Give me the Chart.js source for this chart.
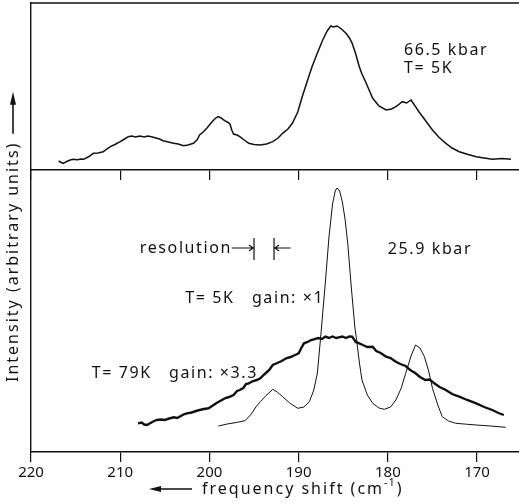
<!DOCTYPE html>
<html><head><meta charset="utf-8">
<script src="https://cdn.jsdelivr.net/npm/chart.js@4"></script>
<style>
html,body{margin:0;padding:0;background:#fff;}
#wrap{position:relative;width:519px;height:504px;overflow:hidden;}
canvas{position:absolute;left:0;top:0;}
</style></head><body>
<div id="wrap"><canvas id="cBot" width="519" height="504"></canvas><canvas id="cTop" width="519" height="504"></canvas></div>
<script>
// ---- data ----
const xTicks = [220, 210, 200, 190, 180, 170];

// 66.5 kbar, T = 5K (upper panel)
const freqTop = [216.9,216.6,216.4,216.0,215.6,215.3,214.8,214.4,214.1,213.6,213.0,212.5,211.9,211.5,211.1,210.6,210.0,209.6,209.1,208.7,208.3,207.8,207.3,206.9,206.5,206.0,205.6,205.2,204.6,204.0,203.5,202.9,202.4,201.8,201.4,201.1,200.7,200.3,199.7,199.3,199.0,198.7,198.3,197.9,197.7,197.5,197.3,196.9,196.6,196.1,195.6,195.0,194.3,193.6,192.9,192.3,191.8,191.2,190.7,190.1,189.6,189.1,188.5,187.9,187.3,186.8,186.4,186.1,185.7,185.2,184.7,184.3,184.0,183.6,183.2,182.9,182.5,182.1,181.7,181.0,180.2,179.6,179.1,178.7,178.4,177.9,177.4,177.1,176.9,176.5,176.1,175.5,175.0,174.3,173.5,172.8,172.0,171.0,170.1,169.2,168.3,167.2,166.2];
const intTop = [9,7.5,6.7,8.5,10,10.7,10.3,11,10.7,13,16.7,17,18.3,21,23.3,25.5,28.3,30.5,33.3,34,33,34,33,34,33.3,32,31,29.3,28,26.7,26,24.3,25,26.7,30,35,38,41.7,48.3,52,53.3,52,49.3,47.5,46,40,36,35,33.3,30,26.7,25.5,25,26,28.3,32,36.7,41,46.7,58,73.3,87,103.3,117,130,139,144,143,144,141,136.7,132,126.7,116,103.3,96,88.3,80,71.7,64,60,61,63.3,66,68.3,67,70,66,63.3,58,53.3,46,40,33,26.7,22,18.3,15.5,13.3,12,10.7,11.5,10.7];

// 25.9 kbar, T = 5K, gain x1 (lower panel, thin line)
const freq5K = [199.0,198.0,197.0,196.0,195.3,194.8,194.3,193.7,192.9,192.4,191.8,191.0,190.1,189.4,188.8,188.3,187.9,187.5,187.0,186.6,186.2,185.9,185.7,185.4,185.1,184.8,184.5,184.1,183.7,183.5,183.2,182.9,182.3,181.7,181.0,180.4,179.7,179.1,178.5,178.0,177.4,176.9,176.4,175.9,175.4,175.0,174.4,173.9,173.2,172.4,171.2,170.1,168.5,166.8];
const int5K = [26,28,29.5,31.3,38,45,50.3,56,62.7,60,55.3,49,43.7,45,50.3,62,79,118,170,215,248,261,264,261,250,233,209,165,125,112,90,72,57,48.7,44,42.7,45,52,64,78.7,96,107,104,95.3,80,63.7,47,35.3,31,28.7,27.8,27,26,24.7];

// 25.9 kbar, T = 79K, gain x3.3 (lower panel, thick line)
const freq79K = [208.0,207.6,207.3,207.0,206.6,206.2,205.9,205.4,205.0,204.5,204.0,203.6,203.2,202.8,202.5,202.0,201.5,201.1,200.6,200.1,199.7,199.2,198.6,198.2,197.8,197.3,196.9,196.6,196.2,195.9,195.6,195.1,194.7,194.3,193.8,193.3,192.9,192.4,191.9,191.4,190.9,190.4,190.0,189.7,189.4,189.0,188.6,188.3,187.8,187.4,187.0,186.6,186.2,185.8,185.5,185.1,184.7,184.3,184.0,183.6,183.2,182.8,182.3,181.7,181.3,180.8,180.2,179.7,179.1,178.6,178.0,177.5,176.9,176.4,175.8,175.3,174.8,174.2,173.5,172.8,172.0,171.1,170.1,169.2,168.3,167.6,167.0];
const int79K = [28.7,29.5,27.5,27,29,31,32,32.5,32,33.5,34.7,34,36,38,38.7,39.5,41,42,43,43.7,46,49,52,54,55,57,61,62,64,68,68.7,71,72,73.7,78,82,87,89,91,93.7,95,97,98.7,104,108.7,110,112,112.7,114,113,115.3,114,115.5,114,114.7,115.5,114,115.5,115.3,110,108.7,107,105,105.3,101,99,95.3,94,90.3,88,86,82,78.7,75,72,72.5,68.7,65,62,58,55.3,52,48.7,45,42,39,37];

// ---- styling ----
const INK = '#111';
const FONT = '"Noto Sans", "DejaVu Sans", sans-serif';
Chart.defaults.font.family = FONT;
Chart.defaults.color = INK;
const X_MIN = 165.3, X_MAX = 220;
const pts = (xs, ys) => xs.map((x, i) => ({x, y: ys[i]}));

function xScale(showLabels, height) {
  return {
    type: 'linear', reverse: true, min: X_MIN, max: X_MAX,
    afterBuildTicks: s => { s.ticks = xTicks.map(v => ({value: v})); },
    afterFit: s => { s.height = height; s.paddingLeft = 0; s.paddingRight = 0; },
    grid: {drawOnChartArea: false, drawTicks: true, tickLength: 10, color: INK, lineWidth: 1.2},
    border: {display: true, color: INK, width: 1.4},
    ticks: {display: showLabels, padding: 2, color: INK, font: {size: 15}, maxRotation: 0, autoSkip: false,
            callback: v => String(v)}
  };
}
function yScale(max) {
  return {
    type: 'linear', min: 0, max: max,
    afterFit: s => { s.width = 31; },
    grid: {display: false, drawTicks: false},
    border: {display: true, color: INK, width: 1.4},
    ticks: {display: false}
  };
}

function drawLabels(chart, labels) {
  const ctx = chart.ctx, xs = chart.scales.x, ys = chart.scales.y;
  ctx.save();
  ctx.fillStyle = INK;
  ctx.font = '16px ' + FONT;
  try { ctx.letterSpacing = '1.6px'; } catch (e) {}
  ctx.textAlign = 'left'; ctx.textBaseline = 'middle';
  labels.forEach(l => ctx.fillText(l.text, xs.getPixelForValue(l.x), ys.getPixelForValue(l.y)));
  ctx.restore();
}

const topPlugin = {
  id: 'topDecor',
  afterDraw(chart) {
    const ctx = chart.ctx, a = chart.chartArea;
    ctx.save();
    ctx.strokeStyle = INK; ctx.lineWidth = 1.4;
    ctx.beginPath(); ctx.moveTo(a.left, a.top); ctx.lineTo(a.right, a.top); ctx.stroke();
    ctx.restore();
    drawLabels(chart, [
      {text: '66.5 kbar', x: 178.2, y: 120},
      {text: 'T= 5K', x: 178.2, y: 102}
    ]);
  }
};

const botPlugin = {
  id: 'botDecor',
  afterDraw(chart) {
    const ctx = chart.ctx, xs = chart.scales.x, ys = chart.scales.y;
    drawLabels(chart, [
      {text: 'resolution', x: 207.8, y: 204},
      {text: '25.9 kbar', x: 180.0, y: 203},
      {text: 'T= 5K   gain: \u00d71', x: 202.7, y: 154},
      {text: 'T= 79K   gain: \u00d73.3', x: 213.2, y: 79}
    ]);
    ctx.save();
    ctx.strokeStyle = INK; ctx.fillStyle = INK; ctx.lineWidth = 1.2;
    // resolution marker
    const b1 = xs.getPixelForValue(195.0), b2 = xs.getPixelForValue(192.76);
    const yT = ys.getPixelForValue(214), yB = ys.getPixelForValue(192), yM = ys.getPixelForValue(204);
    const a1 = xs.getPixelForValue(197.5), a2 = xs.getPixelForValue(190.9);
    ctx.beginPath();
    ctx.moveTo(b1, yT); ctx.lineTo(b1, yB);
    ctx.moveTo(b2, yT); ctx.lineTo(b2, yB);
    ctx.moveTo(a1, yM); ctx.lineTo(b1 - 1, yM);
    ctx.moveTo(b1 - 5, yM - 3); ctx.lineTo(b1 - 1, yM); ctx.lineTo(b1 - 5, yM + 3);
    ctx.moveTo(a2, yM); ctx.lineTo(b2 + 1, yM);
    ctx.moveTo(b2 + 5, yM - 3); ctx.lineTo(b2 + 1, yM); ctx.lineTo(b2 + 5, yM + 3);
    ctx.stroke();

    // x-axis title with arrow
    ctx.font = '16px ' + FONT;
    try { ctx.letterSpacing = '2px'; } catch (e) {}
    ctx.textBaseline = 'middle'; ctx.textAlign = 'left';
    const ty = 489;
    ctx.lineWidth = 1.6;
    ctx.beginPath(); ctx.moveTo(158, ty); ctx.lineTo(192, ty); ctx.stroke();
    ctx.beginPath(); ctx.moveTo(149, ty); ctx.lineTo(161, ty - 3); ctx.lineTo(161, ty + 3); ctx.closePath(); ctx.fill();
    let tx = 202;
    const part1 = 'frequency shift (cm';
    ctx.fillText(part1, tx, ty); tx += ctx.measureText(part1).width;
    ctx.font = '11px ' + FONT;
    try { ctx.letterSpacing = '1px'; } catch (e) {}
    ctx.fillText('-1', tx, ty - 6); tx += ctx.measureText('-1').width + 1;
    ctx.font = '16px ' + FONT;
    try { ctx.letterSpacing = '2px'; } catch (e) {}
    ctx.fillText(')', tx, ty);

    // y-axis title with arrow (rotated)
    ctx.translate(13, 382);
    ctx.rotate(-Math.PI / 2);
    const ytxt = 'Intensity (arbitrary units)';
    ctx.fillText(ytxt, 0, 0);
    const w = ctx.measureText(ytxt).width;
    ctx.beginPath(); ctx.moveTo(w + 8, 0); ctx.lineTo(w + 40, 0); ctx.stroke();
    ctx.beginPath(); ctx.moveTo(w + 50, 0); ctx.lineTo(w + 37, -3); ctx.lineTo(w + 37, 3); ctx.closePath(); ctx.fill();
    ctx.restore();
  }
};

const common = {responsive: false, animation: false, devicePixelRatio: 1,
  plugins: {legend: {display: false}, tooltip: {enabled: false}}};

new Chart(document.getElementById('cTop'), {
  type: 'line',
  data: {datasets: [{data: pts(freqTop, intTop), borderColor: INK, borderWidth: 1.5, pointRadius: 0, tension: 0, fill: false}]},
  options: Object.assign({}, common, {
    layout: {padding: {top: 3, left: 0, right: 0, bottom: 0}},
    scales: {x: xScale(false, 334), y: yScale(167)}
  }),
  plugins: [topPlugin]
});

new Chart(document.getElementById('cBot'), {
  type: 'line',
  data: {datasets: [
    {data: pts(freq79K, int79K), borderColor: INK, borderWidth: 2.4, pointRadius: 0, tension: 0, fill: false},
    {data: pts(freq5K, int5K), borderColor: INK, borderWidth: 1, pointRadius: 0, tension: 0, fill: false}
  ]},
  options: Object.assign({}, common, {
    layout: {padding: {top: 170, left: 0, right: 0, bottom: 0}},
    scales: {x: xScale(true, 52), y: yScale(282)}
  }),
  plugins: [botPlugin]
});
</script>
</body></html>
